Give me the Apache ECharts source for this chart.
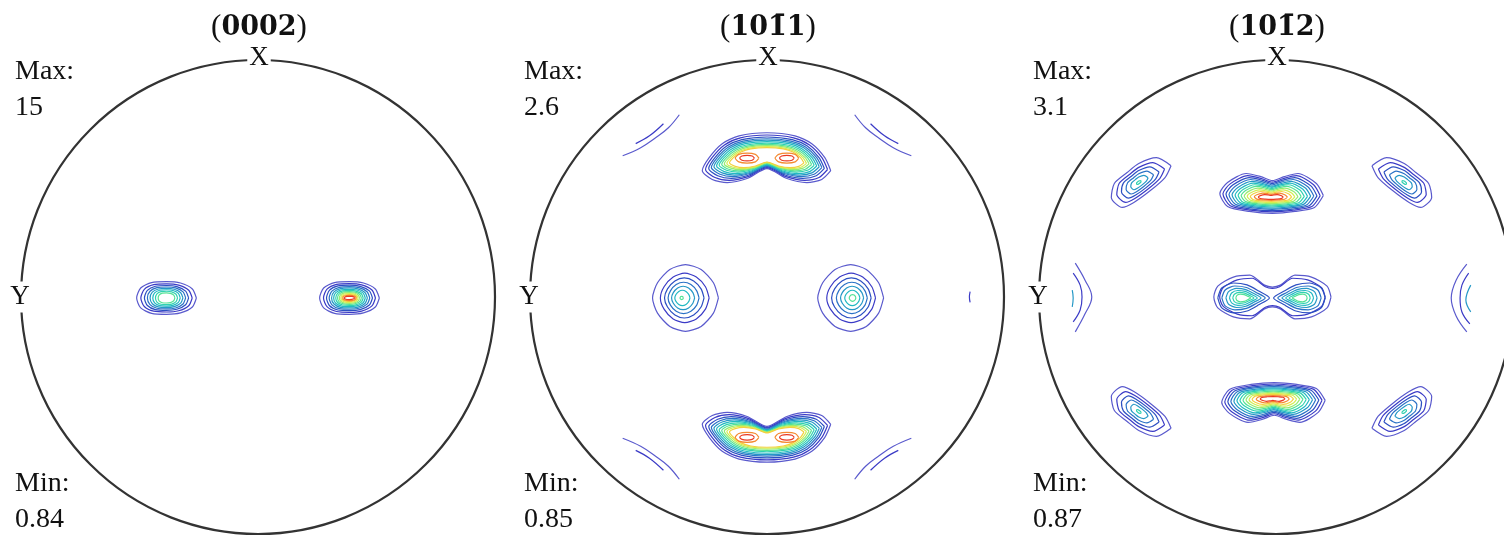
<!DOCTYPE html>
<html><head><meta charset="utf-8">
<script src="https://cdn.jsdelivr.net/npm/echarts@6/dist/echarts.min.js"></script>
<style>html,body{margin:0;padding:0;background:#fff}#c{width:1504px;height:538px}</style>
</head><body><div id="c"></div>
<script>
// ---------- DATA (projected coordinates, disk radius = 100, y up) ----------
const panelTitles = ['{p|(}{b|0002}{p|)}', '{p|(}{b|101\u03041}{p|)}', '{p|(}{b|101\u03042}{p|)}'];
const maxLabels = ['15', '2.6', '3.1'];
const minLabels = ['0.84', '0.85', '0.87'];
const levelColors = ['#5a5acd','#3b3bc6','#2c4fc2','#2a72c6','#2598c6','#22b9c2','#30d2b0','#55e296','#95ec72','#d2ee52','#f3d040','#f48a30','#ea3a22'];

// contour outline shapes (relative to feature centre)
const blobShape = [[12.6,0],[10.9,3.8],[5.9,6.3],[0,6.9],[-6.3,6.5],[-10.9,4.2],[-12.6,0],[-10.9,-4.2],[-6.3,-6.5],[0,-6.9],[5.9,-6.3],[10.9,-3.8]];
const kidneyTopShape = [[26.9,-5.5],[24.4,0],[18.9,5.9],[11.8,9.2],[0,10.5],[-11.8,9.2],[-18.9,5.9],[-24.4,0],[-27.3,-5.5],[-23.1,-9.2],[-16.8,-10.5],[-8.4,-8.8],[0,-4.6],[8.4,-8.8],[16.8,-10.5],[23.1,-9.2]];
const kidneyBottomShape = [[26.9,5.5],[24.4,0],[18.9,-5.9],[11.8,-9.2],[0,-10.5],[-11.8,-9.2],[-18.9,-5.9],[-24.4,0],[-27.3,5.5],[-23.1,9.2],[-16.8,10.5],[-8.4,8.8],[0,4.6],[8.4,8.8],[16.8,10.5],[23.1,9.2]];
const spotShape = [[5,0],[3.5,1.6],[0,2.1],[-3.5,1.6],[-5,0],[-3.5,-1.6],[0,-2.1],[3.5,-1.6]];
const roundShape = [[13.9,0],[11.8,6.4],[6.6,12],[0,14.1],[-6.6,12],[-11.8,6.4],[-13.9,0],[-11.8,-6.4],[-6.6,-12],[0,-14.1],[6.6,-12],[11.8,-6.4]];
const cornerTLShape = [[13.9,7.1],[11.3,2.1],[5,-3.4],[-2.1,-8.4],[-7.1,-10.5],[-11.8,-6.3],[-10.5,-0.4],[-5,4.2],[0,8],[7.6,10.5]];
const cornerTRShape = [[-13.9,7.1],[-11.3,2.1],[-5,-3.4],[2.1,-8.4],[7.1,-10.5],[11.8,-6.3],[10.5,-0.4],[5,4.2],[0,8],[-7.6,10.5]];
const cornerBLShape = [[13.9,-7.1],[11.3,-2.1],[5,3.4],[-2.1,8.4],[-7.1,10.5],[-11.8,6.3],[-10.5,0.4],[-5,-4.2],[0,-8],[7.6,-10.5]];
const cornerBRShape = [[-13.9,-7.1],[-11.3,-2.1],[-5,3.4],[2.1,8.4],[7.1,10.5],[11.8,6.3],[10.5,0.4],[5,-4.2],[0,-8],[-7.6,-10.5]];
const barTopShape = [[22.7,0.8],[19.7,5.9],[11.8,10.1],[5.9,8.8],[0.8,7.1],[-4.2,8.8],[-10.5,10.1],[-18.5,6.3],[-21.8,1.7],[-18.5,-3.8],[-9.2,-5.9],[0.8,-6.7],[10.5,-5.9],[18.9,-4.2]];
const barBottomShape = [[22.7,-0.8],[19.7,-5.9],[11.8,-10.1],[5.9,-8.8],[0.8,-7.1],[-4.2,-8.8],[-10.5,-10.1],[-18.5,-6.3],[-21.8,-1.7],[-18.5,3.8],[-9.2,5.9],[0.8,6.7],[10.5,5.9],[18.9,4.2]];
const bowtieShape = [[25.2,0],[23.5,4.6],[16.8,8.4],[9.7,9.2],[3.4,5],[0,4.2],[-3.4,5],[-9.7,9.2],[-16.8,8.4],[-23.5,4.6],[-25.2,0],[-23.5,-4.6],[-16.8,-8.4],[-9.7,-9.2],[-3.4,-5],[0,-4.2],[3.4,-5],[9.7,-9.2],[16.8,-8.4],[23.5,-4.6]];
const lobeRightShape = [[10.9,0],[9.2,4.2],[4.2,6.3],[-1.7,5.5],[-6.7,2.9],[-11.3,0],[-6.7,-2.9],[-1.7,-5.5],[4.2,-6.3],[9.2,-4.2]];
const lobeLeftShape = [[-10.9,0],[-9.2,4.2],[-4.2,6.3],[1.7,5.5],[6.7,2.9],[11.3,0],[6.7,-2.9],[1.7,-5.5],[-4.2,-6.3],[-9.2,-4.2]];

// contour rings: [level, x-extent, y-extent, x-shift, y-shift]
const ringsBlobLeft = [[0,1,1],[1,.86,.86],[2,.74,.76],[3,.64,.67],[4,.55,.58],[5,.46,.5],[6,.37,.41],[7,.28,.31]];
const ringsBlobRight = [[0,1,1],[1,.87,.88],[2,.77,.78],[3,.68,.69],[4,.6,.61],[5,.53,.53],[6,.46,.46],[7,.4,.39],[8,.34,.33],[9,.29,.27],[10,.25,.21],[11,.22,.16],[12,.17,.1]];
const ringsKidney = [[0,1,1],[1,.95,.91],[2,.9,.83],[3,.86,.76],[4,.82,.7],[5,.78,.64],[6,.74,.58],[7,.7,.53],[8,.66,.48],[9,.62,.44],[10,.58,.4]];
const ringsSpot = [[11,1,1],[12,.62,.55]];
const ringsRoundLeft = [[0,1,1],[1,.74,.74,-.3],[2,.6,.6,-.5],[3,.47,.47,-.8],[4,.35,.35,-1],[5,.23,.23,-1.3],[7,.05,.05,-1.6]];
const ringsRoundRight = [[0,1,1],[1,.74,.74,.2],[2,.6,.6,.3],[3,.47,.47,.5],[4,.35,.35,.6],[5,.23,.23,.7],[7,.1,.1,.8]];
const ringsCorner = [[0,1,1],[1,.8,.8],[2,.63,.63],[3,.46,.46],[4,.29,.29],[6,.08,.08]];
const ringsBar = [[0,1,1],[1,.94,.91],[2,.88,.83],[3,.82,.75],[4,.76,.67],[5,.7,.6],[6,.64,.53],[7,.58,.46],[8,.52,.39],[9,.46,.32],[10,.4,.25],[11,.32,.18],[12,.24,.12]];
const ringsBowtie = [[0,1,1],[1,.9,.86]];
const ringsLobe = [[2,1,1],[3,.84,.8],[4,.68,.64],[5,.54,.5],[6,.41,.37],[7,.29,.26]];

// features: [panel, centre x, centre y, shape, rings]
const features = [
  [0,-38.6,-0.4,blobShape,ringsBlobLeft],
  [0,38.6,-0.4,blobShape,ringsBlobRight],
  [1,0,58.8,kidneyTopShape,ringsKidney],
  [1,-8.4,58.6,spotShape,ringsSpot],
  [1,8.4,58.6,spotShape,ringsSpot],
  [1,0,-59.2,kidneyBottomShape,ringsKidney],
  [1,-8.4,-59.2,spotShape,ringsSpot],
  [1,8.4,-59.2,spotShape,ringsSpot],
  [1,-34.4,-0.4,roundShape,ringsRoundLeft],
  [1,35.3,-0.4,roundShape,ringsRoundRight],
  [2,-57.1,48.3,cornerTLShape,ringsCorner],
  [2,57.1,48.3,cornerTRShape,ringsCorner],
  [2,-57.1,-48.3,cornerBLShape,ringsCorner],
  [2,57.1,-48.3,cornerBRShape,ringsCorner],
  [2,-0.4,42,barTopShape,ringsBar],
  [2,0.4,-42.8,barBottomShape,ringsBar],
  [2,0.4,0,bowtieShape,ringsBowtie],
  [2,12.2,-0.4,lobeRightShape,ringsLobe],
  [2,-12.2,-0.4,lobeLeftShape,ringsLobe]
];

// open contour pieces cut by the rim: [panel, level, points]
const arcs = [
  [1,0,[[-60.9,59.6],[-53.3,63],[-47,67.2],[-41.6,71.4],[-37,76.9]]],
  [1,1,[[-55.4,64.7],[-49.6,68],[-43.7,73.1]]],
  [1,0,[[-60.9,-59.6],[-53.3,-63],[-47,-67.2],[-41.6,-71.4],[-37,-76.9]]],
  [1,1,[[-55.4,-64.7],[-49.6,-68],[-43.7,-73.1]]],
  [1,0,[[60.9,59.6],[53.3,63],[47,67.2],[41.6,71.4],[37,76.9]]],
  [1,1,[[55.4,64.7],[49.6,68],[43.7,73.1]]],
  [1,0,[[60.9,-59.6],[53.3,-63],[47,-67.2],[41.6,-71.4],[37,-76.9]]],
  [1,1,[[55.4,-64.7],[49.6,-68],[43.7,-73.1]]],
  [1,1,[[85.7,2.3],[85.4,0],[85.7,-2.3]]],
  [2,0,[[-84.4,14.3],[-80.2,7.1],[-77.3,0],[-80.2,-7.1],[-84.4,-14.7]]],
  [2,1,[[-85.3,10.1],[-82.3,5],[-81.5,0],[-82.3,-5.5],[-85.3,-10.5]]],
  [2,4,[[-85.7,2.9],[-85.3,-0.4],[-85.7,-4.2]]],
  [2,0,[[84,13.9],[79.4,7.1],[77.3,-0.4],[79.4,-8],[84,-14.7]]],
  [2,1,[[84.8,10.1],[81.9,5],[81.1,-0.4],[81.9,-6.3],[85.3,-11.3]]],
  [2,4,[[85.7,5],[83.6,-1.3],[85.7,-6.3]]]
];

// ---------- LAYOUT ----------
const centersX = [258, 767, 1276];
const CY = 297, RAD = 237;
const serif = '"Liberation Serif", "DejaVu Serif", serif';
const titleSerif = '"DejaVu Serif", "Liberation Serif", serif';

const grids = [], xAxes = [], yAxes = [], polars = [], angleAxes = [], radiusAxes = [], graphics = [];
centersX.forEach((cx, i) => {
  grids.push({left: cx - RAD, top: CY - RAD, width: 2*RAD, height: 2*RAD, containLabel: false});
  xAxes.push({type:'value', gridIndex:i, min:-100, max:100, show:false});
  yAxes.push({type:'value', gridIndex:i, min:-100, max:100, show:false});
  polars.push({center:[cx, CY], radius: RAD});
  angleAxes.push({polarIndex:i, type:'value', min:0, max:360, startAngle:90,
    axisLine:{show:true, lineStyle:{color:'#333', width:2.2}}, axisTick:{show:false}, axisLabel:{show:false}, splitLine:{show:false}});
  radiusAxes.push({polarIndex:i, type:'value', min:0, max:1, show:false});
  graphics.push({type:'text', x: cx + 1, y: 28, z:100, style:{text: panelTitles[i], textAlign:'center', textVerticalAlign:'middle', align:'center', verticalAlign:'middle',
    rich:{p:{fontFamily:serif, fontSize:31, fill:'#111'}, b:{fontFamily:titleSerif, fontSize:27, fontWeight:'bold', fill:'#111'}}}});
  graphics.push({type:'text', x: cx + 1, y: 58, z:100, style:{text:'X', font:'27px '+serif, fill:'#111', textAlign:'center', textVerticalAlign:'middle', align:'center', verticalAlign:'middle', backgroundColor:'#fff', padding:[0,2]}});
  graphics.push({type:'text', x: cx - RAD - 1, y: CY, z:100, style:{text:'Y', font:'27px '+serif, fill:'#111', textAlign:'center', textVerticalAlign:'middle', align:'center', verticalAlign:'middle', backgroundColor:'#fff', padding:[2,0]}});
  const lx = cx - 243;
  [['Max:',72],[maxLabels[i],108],['Min:',484],[minLabels[i],520]].forEach(([t,y]) => {
    graphics.push({type:'text', x: lx, y: y, z:100, style:{text:t, font:'28px '+serif, fill:'#111', textAlign:'left', textVerticalAlign:'middle', align:'left', verticalAlign:'middle'}});
  });
});

const series = [];
features.forEach(([panel, fx, fy, shape, rings]) => {
  rings.forEach(([lv, sx, sy, ox = 0, oy = 0]) => {
    const pts = shape.map(([x, y]) => [fx + ox + x*sx, fy + oy + y*sy]);
    pts.push(pts[0]);
    series.push({type:'line', xAxisIndex:panel, yAxisIndex:panel, data:pts, showSymbol:false, smooth:0.25, silent:true,
      lineStyle:{color:levelColors[lv], width:1.2}, z:3});
  });
});
arcs.forEach(([panel, lv, pts]) => {
  series.push({type:'line', xAxisIndex:panel, yAxisIndex:panel, data:pts, showSymbol:false, smooth:0.4, silent:true,
    lineStyle:{color:levelColors[lv], width:1.2}, z:3});
});

const chart = echarts.init(document.getElementById('c'), null, {renderer:'canvas'});
chart.setOption({
  animation:false, backgroundColor:'#fff',
  grid:grids, xAxis:xAxes, yAxis:yAxes,
  polar:polars, angleAxis:angleAxes, radiusAxis:radiusAxes,
  graphic:graphics, series:series
});
</script></body></html>
